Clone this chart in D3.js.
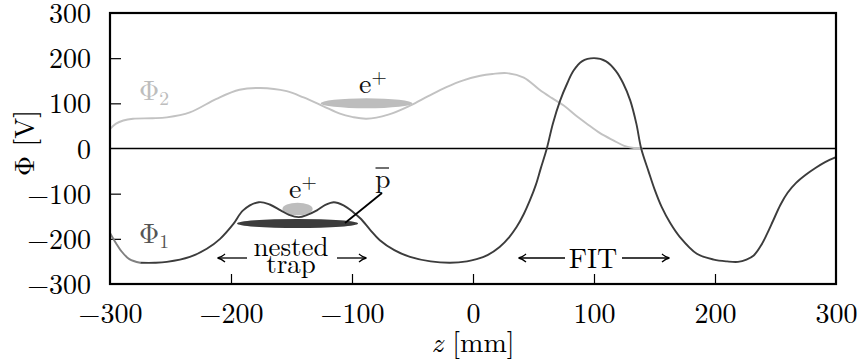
<!DOCTYPE html>
<html>
<head>
<meta charset="utf-8">
<script src="https://cdn.jsdelivr.net/npm/d3@7"></script>
<style>
  body { margin: 0; background: #fff; }
</style>
</head>
<body>
<script>
// potential on axis, [z in mm, phi in V]
var phi1 = [[-300,-187],[-295,-210],[-291,-226],[-284,-245],[-275,-253],[-263,-253],[-253,-251],
  [-234,-240],[-220,-222],[-209,-200],[-198,-167],[-190,-137],[-177,-119],[-168,-124],[-159,-137],
  [-152,-147],[-144,-152],[-137,-147],[-129,-137],[-122,-125],[-115,-119],[-107,-126],[-99,-141],
  [-93,-155],[-85,-180],[-77,-203],[-65,-225],[-52,-240],[-35,-250],[-19,-253],[-5,-250],[3,-245],
  [12,-236],[22,-218],[30,-196],[36,-174],[42,-145],[47,-115],[52,-80],[56,-44],[61,0],[66,55],
  [72,106],[78,145],[83,172],[90,193],[100,200],[110,193],[118,172],[124,145],[130,106],[135,55],
  [139,0],[145,-50],[150,-90],[156,-130],[163,-165],[171,-196],[185,-233],[199,-246],[210,-250],
  [219,-251],[226,-246],[232,-237],[238,-215],[243,-189],[248,-160],[254,-125],[260,-98],
  [267,-76],[275,-58],[283,-43],[291,-30],[300,-19]];
var phi2 = [[-300,43],[-295,55],[-289,62],[-281,66],[-265,67],[-253,69],[-234,80],[-212,110],
  [-193,130],[-176,134],[-154,127],[-140,113],[-124,94],[-110,77],[-100,70],[-88,66],[-70,75],
  [-52,95],[-37,116],[-22,136],[-8,151],[6,161],[16,165],[28,167],[42,157],[55,130],[65,112],
  [75,95],[85,73],[94,55],[105,34],[116,18],[125,6],[133,1],[140,0]];
var xTicks = [-300, -200, -100, 0, 100, 200, 300];
var yTicks = [-300, -200, -100, 0, 100, 200, 300];

// plasma clouds: [z centre, phi centre, half length mm, half height V]
var posCloudOuter = [-88, 100, 38, 11];
var posCloudNested = [-145, -134, 12.5, 14];
var pbarCloud = [-145, -166, 50, 10];

var W = 863, H = 362;
var margin = {left: 110, right: 27, top: 13, bottom: 78};
var FONT = "'Latin Modern Roman', 'Liberation Serif', serif";
var svg = d3.select('body').append('svg').attr('width', W).attr('height', H);

var x = d3.scaleLinear().domain([-300, 300]).range([margin.left, W - margin.right]);
var y = d3.scaleLinear().domain([-300, 300]).range([H - margin.bottom, margin.top]);

var fs = 28;
var minus = function(d){ return d < 0 ? '\u2212' + (-d) : d; };

// ticks (inward) and labels
var axB = d3.axisBottom(x).tickValues(xTicks).tickSize(-10).tickPadding(19).tickFormat(minus);
var axL = d3.axisLeft(y).tickValues(yTicks).tickSize(-11).tickPadding(19).tickFormat(minus);

var gB = svg.append('g').attr('transform', 'translate(0,' + y(-300) + ')').call(axB);
var gL = svg.append('g').attr('transform', 'translate(' + x(-300) + ',0)').call(axL);
[gB, gL].forEach(function(g){
  g.attr('font-size', fs);
  g.select('.domain').remove();
  g.selectAll('line').attr('stroke', '#000').attr('stroke-width', 1.2);
  g.selectAll('text').attr('fill', '#000');
});
gB.selectAll('.tick').filter(function(d){ return d === -300 || d === 300; }).select('line').remove();
gL.selectAll('.tick').filter(function(d){ return d === -300 || d === 300 || d === 0; }).select('line').remove();
gL.selectAll('text').attr('dy', '0.34em');
gB.selectAll('text').attr('dy', '0.72em');

// zero line
svg.append('line')
  .attr('x1', x(-300)).attr('x2', x(300)).attr('y1', y(0)).attr('y2', y(0))
  .attr('stroke', '#000').attr('stroke-width', 1.6);

var line = d3.line().x(function(d){ return x(d[0]); }).y(function(d){ return y(d[1]); })
  .curve(d3.curveCatmullRom.alpha(0.5));

// clouds
function cloud(c, fill) {
  svg.append('ellipse')
    .attr('cx', x(c[0])).attr('cy', y(c[1]))
    .attr('rx', x(c[0] + c[2]) - x(c[0])).attr('ry', y(c[1] - c[3]) - y(c[1]))
    .attr('fill', fill);
}
cloud(posCloudOuter, '#bdbdbd');
cloud(posCloudNested, '#bdbdbd');
cloud(pbarCloud, '#3c3c3c');

// curves
svg.append('path').datum(phi2).attr('d', line)
  .attr('fill', 'none').attr('stroke', '#c2c2c2').attr('stroke-width', 1.9);
svg.append('path').datum(phi1.filter(function(d){ return d[0] >= -275; })).attr('d', line)
  .attr('fill', 'none').attr('stroke', '#3c3c3c').attr('stroke-width', 1.9);
svg.append('path').datum(phi1.filter(function(d){ return d[0] <= -275; })).attr('d', line)
  .attr('fill', 'none').attr('stroke', '#808080').attr('stroke-width', 1.9);

// frame
svg.append('rect')
  .attr('x', x(-300)).attr('y', y(300))
  .attr('width', x(300) - x(-300)).attr('height', y(-300) - y(300))
  .attr('fill', 'none').attr('stroke', '#000').attr('stroke-width', 2.2);

// labels
function label(px, py, main, sub, sup, color) {
  var t = svg.append('text').attr('x', px).attr('y', py).attr('font-size', fs).attr('fill', color);
  t.append('tspan').text(main);
  if (sub) t.append('tspan').attr('font-size', fs * 0.7).attr('dy', 5).text(sub);
  if (sup) t.append('tspan').attr('font-size', fs * 0.7).attr('dy', -10).text(sup);
  return t;
}
label(139, 100, '\u03a6', '2', null, '#bdbdbd');
label(139, 243, '\u03a6', '1', null, '#555');
label(359, 93, 'e', null, '+', '#111');
label(289, 198, 'e', null, '+', '#111');

// pbar
svg.append('text').attr('x', 375).attr('y', 188).attr('font-size', fs).attr('fill', '#111').text('p');
svg.append('line').attr('x1', 375.5).attr('x2', 389).attr('y1', 168).attr('y2', 168)
  .attr('stroke', '#111').attr('stroke-width', 1.2);
svg.append('line').attr('x1', 382).attr('y1', 193).attr('x2', 345).attr('y2', 223)
  .attr('stroke', '#000').attr('stroke-width', 1.8);

// nested trap / FIT
svg.append('text').attr('x', 291).attr('y', 256).attr('font-size', 27).attr('text-anchor', 'middle').text('nested');
svg.append('text').attr('x', 291).attr('y', 273).attr('font-size', 27).attr('text-anchor', 'middle').text('trap');
svg.append('text').attr('x', 593).attr('y', 268).attr('font-size', fs).attr('text-anchor', 'middle').text('FIT');

function arrow(x1, x2, yy) {
  svg.append('line').attr('x1', x1).attr('x2', x2).attr('y1', yy).attr('y2', yy)
    .attr('stroke', '#000').attr('stroke-width', 1.3);
  var dir = x2 > x1 ? 1 : -1;
  svg.append('path')
    .attr('d', 'M' + (x2 - dir * 7) + ',' + (yy - 4) + ' Q' + (x2 - dir * 3) + ',' + (yy - 0.5) + ' ' + (x2 + dir * 0.5) + ',' + yy +
      ' Q' + (x2 - dir * 3) + ',' + (yy + 0.5) + ' ' + (x2 - dir * 7) + ',' + (yy + 4))
    .attr('fill', 'none').attr('stroke', '#000').attr('stroke-width', 1.3);
}
arrow(247, 218, 258);
arrow(337, 366, 258);
arrow(565, 519, 258);
arrow(622, 669, 258);

// axis titles
var zt = svg.append('text').attr('x', x(0)).attr('y', 352).attr('font-size', fs).attr('text-anchor', 'middle');
zt.append('tspan').attr('font-style', 'italic').text('z');
zt.append('tspan').text(' [mm]');
svg.append('text').attr('transform', 'translate(34,143) rotate(-90)')
  .attr('font-size', fs).attr('text-anchor', 'middle').text('\u03a6 [V]');

// one font for every text
svg.selectAll('text').style('font-family', FONT);
</script>
</body>
</html>
